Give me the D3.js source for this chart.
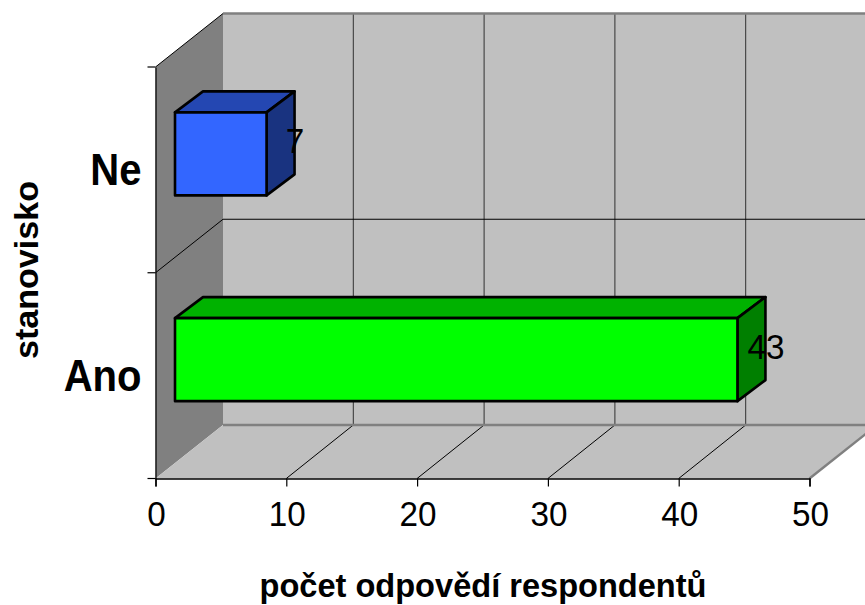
<!DOCTYPE html>
<html><head><meta charset="utf-8">
<script src="https://cdnjs.cloudflare.com/ajax/libs/d3/7.8.5/d3.min.js"></script>
<style>html,body{margin:0;padding:0;background:#fff}svg{display:block}text{font-family:"Liberation Sans",Arial,sans-serif;fill:#000}</style>
</head><body><svg id="c" width="865" height="605"></svg>
<script>
const categories = ["Ano", "Ne"];
const values = [43, 7];
const frontColors = ["#00ff00", "#3366ff"];
const topColors = ["#00b200", "#2447b2"];
const sideColors = ["#007f00", "#193380"];
const xTicks = [0, 10, 20, 30, 40, 50];
const axisTitleX = "počet odpovědí respondentů";
const axisTitleY = "stanovisko";

const svg = d3.select("#c");
const x = d3.scaleLinear().domain([0, 50]).range([155.5, 809.5]);
const y = d3.scaleBand().domain(categories).range([478.5, 67]);
const depth = { dx: 67.5, dy: -53.5 };
const barDepth = { dx: 28, dy: -21 };
const inset = { dx: 19.5, dy: -16 };
const barH = 83;
const pts = a => a.map(p => p.join(",")).join(" ");
const squeeze = function (sel, k) {
  sel.each(function () {
    const n = this.getComputedTextLength();
    d3.select(this).attr("textLength", n * k).attr("lengthAdjust", "spacingAndGlyphs");
  });
};
const [x0, x1] = x.range();
const [yB, yT] = y.range();
const bands = [yB, y("Ano"), y("Ne")];

// walls and floor
svg.append("polygon").attr("points", pts([[x0, yB], [x0, yT], [x0 + depth.dx, yT + depth.dy], [x0 + depth.dx, yB + depth.dy]])).attr("fill", "#808080");
svg.append("polygon").attr("points", pts([[x0 + depth.dx, yT + depth.dy], [x1 + depth.dx, yT + depth.dy], [x1 + depth.dx, yB + depth.dy], [x0 + depth.dx, yB + depth.dy]])).attr("fill", "#c0c0c0");
svg.append("polygon").attr("points", pts([[x0, yB], [x1, yB], [x1 + depth.dx, yB + depth.dy], [x0 + depth.dx, yB + depth.dy]])).attr("fill", "#c0c0c0");

// gridlines
xTicks.slice(1, -1).forEach(t => {
  const px = x(t);
  svg.append("line").attr("x1", px + depth.dx - 0.5).attr("x2", px + depth.dx - 0.5).attr("y1", yT + depth.dy).attr("y2", yB + depth.dy).attr("stroke", "#000").attr("stroke-width", 1).attr("stroke-opacity", .75);
  svg.append("line").attr("x1", px).attr("y1", yB).attr("x2", px + depth.dx - 0.5).attr("y2", yB + depth.dy).attr("stroke", "#000").attr("stroke-width", 1);
});
const mid = y("Ne") + y.bandwidth();
svg.append("line").attr("x1", x0).attr("y1", mid).attr("x2", x0 + depth.dx).attr("y2", mid + depth.dy).attr("stroke", "#000");
svg.append("line").attr("x1", x0 + depth.dx).attr("y1", mid + depth.dy).attr("x2", x1 + depth.dx).attr("y2", mid + depth.dy).attr("stroke", "#000");
svg.append("line").attr("x1", x0).attr("y1", yT).attr("x2", x0 + depth.dx).attr("y2", yT + depth.dy).attr("stroke", "#000");

// wall borders
const grey = "#808080";
svg.append("line").attr("x1", x0 + depth.dx).attr("x2", x1 + depth.dx).attr("y1", yT + depth.dy).attr("y2", yT + depth.dy).attr("stroke", grey).attr("stroke-width", 2.5);
svg.append("line").attr("x1", x0 + depth.dx).attr("x2", x1 + depth.dx).attr("y1", yB + depth.dy).attr("y2", yB + depth.dy).attr("stroke", grey).attr("stroke-width", 2.5);
svg.append("line").attr("x1", x1).attr("x2", x1 + depth.dx).attr("y1", yB).attr("y2", yB + depth.dy).attr("stroke", grey).attr("stroke-width", 2.5);

// bars
categories.forEach((c, i) => {
  const left = x(0) + inset.dx;
  const right = x(values[i]) + inset.dx;
  const top = y(c) + inset.dy + (y.bandwidth() - barH) / 2;
  const bot = top + barH;
  const d = barDepth;
  const g = svg.append("g").attr("stroke", "#000").attr("stroke-width", 2.6).attr("stroke-linejoin", "round");
  g.append("polygon").attr("points", pts([[left, top], [right, top], [right + d.dx, top + d.dy], [left + d.dx, top + d.dy]])).attr("fill", topColors[i]);
  g.append("polygon").attr("points", pts([[right, top], [right + d.dx, top + d.dy], [right + d.dx, bot + d.dy], [right, bot]])).attr("fill", sideColors[i]);
  g.append("polygon").attr("points", pts([[left, top], [right, top], [right, bot], [left, bot]])).attr("fill", frontColors[i]);
  svg.append("text").attr("x", right + 28.5).attr("y", top + 40.5).attr("text-anchor", "middle").attr("font-size", 35).text(values[i]).call(squeeze, 0.95);
});

// axes
const xAxis = d3.axisBottom(x).tickValues(xTicks).tickSize(8).tickFormat(d3.format("d"));
const gx = svg.append("g").attr("transform", `translate(0,${yB})`).call(xAxis);
gx.selectAll("path").attr("stroke", "#000").attr("stroke-width", 1.5);
gx.selectAll("line").attr("stroke", "#000").attr("stroke-width", 1.2);
gx.selectAll("text").attr("font-size", 35).attr("font-family", "Liberation Sans").attr("y", 47.5).attr("dy", 0).attr("dx", 0.5).call(squeeze, 0.95);

const yAxis = d3.axisLeft(y).tickSize(0).tickPadding(14);
const gy = svg.append("g").attr("transform", `translate(${x0},0)`).call(yAxis);
gy.selectAll("path").attr("stroke", "#000").attr("stroke-width", 1.2);
gy.selectAll("text").attr("font-size", 44).attr("font-weight", "bold").attr("font-family", "Liberation Sans").attr("dy", 15.5).call(squeeze, 0.91);
bands.forEach(b => svg.append("line").attr("x1", x0 - 8).attr("x2", x0).attr("y1", b).attr("y2", b).attr("stroke", "#000").attr("stroke-width", 1.2));

// titles
svg.append("text").attr("x", 483).attr("y", 597).attr("text-anchor", "middle").attr("font-size", 33).attr("font-weight", "bold").attr("textLength", 447).attr("lengthAdjust", "spacingAndGlyphs").text(axisTitleX);
svg.append("text").attr("transform", "translate(38,270) rotate(-90)").attr("text-anchor", "middle").attr("font-size", 33).attr("font-weight", "bold").attr("textLength", 178).attr("lengthAdjust", "spacingAndGlyphs").text(axisTitleY);
</script></body></html>
